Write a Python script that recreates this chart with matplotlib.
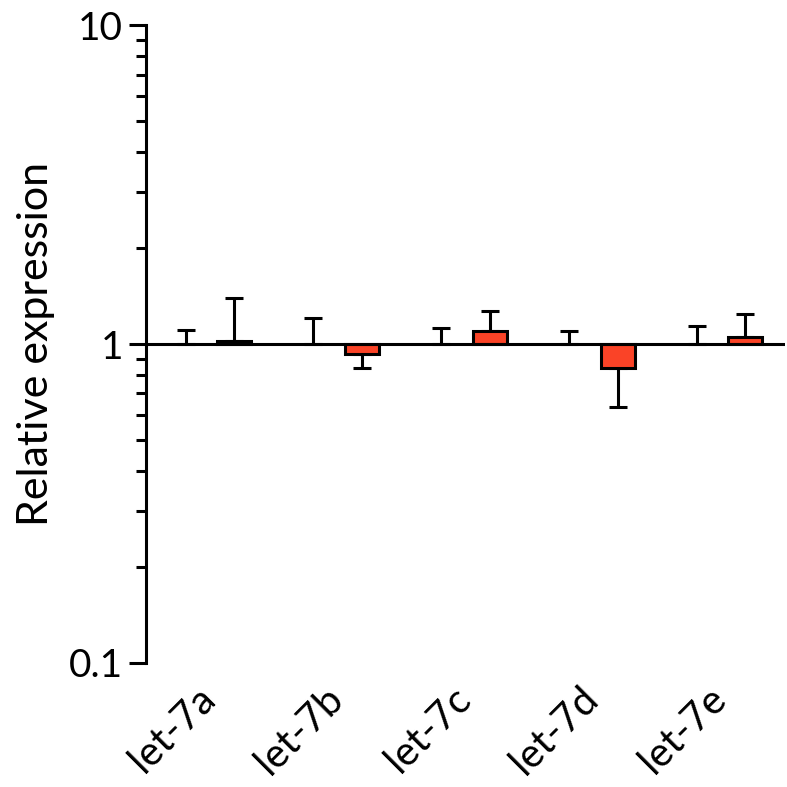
import matplotlib
matplotlib.use("Agg")
import matplotlib.pyplot as plt
import matplotlib.transforms as mtransforms
import numpy as np

plt.rcParams['font.family'] = ['Lato', 'DejaVu Sans']

categories = ["let-7a", "let-7b", "let-7c", "let-7d", "let-7e"]
control = [1.0, 1.0, 1.0, 1.0, 1.0]
control_err_top = [1.11, 1.21, 1.12, 1.10, 1.14]
treated = [1.02, 0.93, 1.10, 0.84, 1.05]
treated_err_end = [1.39, 0.84, 1.27, 0.635, 1.24]

red = '#FA4327'
lw = 2.2

fig = plt.figure(figsize=(7.87, 7.87), dpi=100)
ax = fig.add_axes([0.1855, 0.1576, 0.812, 0.8104])
ax.set_yscale('log')
ax.set_ylim(0.1, 10)
ax.set_xlim(-0.5, 4.5)

x = np.arange(len(categories))
off = 0.19
w = 0.265

for xi, c, e in zip(x, control, control_err_top):
    ax.errorbar([xi - off], [c], yerr=[[0], [e - c]], fmt='none', ecolor='black',
                elinewidth=lw, capsize=6.5, capthick=lw, zorder=2)

for xi, t, e in zip(x, treated, treated_err_end):
    ax.bar(xi + off, t - 1, bottom=1, width=w, color=red, edgecolor='black',
           linewidth=lw, zorder=3)
    if e >= t:
        yerr = [[0], [e - t]]
    else:
        yerr = [[t - e], [0]]
    ax.errorbar([xi + off], [t], yerr=yerr, fmt='none', ecolor='black',
                elinewidth=lw, capsize=6.5, capthick=lw, zorder=2)

ax.axhline(1, color='black', linewidth=lw, zorder=4)

for s in ['top', 'right', 'bottom']:
    ax.spines[s].set_visible(False)
ax.spines['left'].set_linewidth(lw)

ax.set_yticks([0.1, 1, 10])
ax.set_yticklabels(['0.1', '1', '10'])
ax.tick_params(axis='y', which='major', length=12.5, width=lw, labelsize=28, direction='out', pad=4)
ax.tick_params(axis='y', which='minor', length=7, width=lw, direction='out')
ax.yaxis.set_minor_locator(matplotlib.ticker.LogLocator(base=10, subs=np.arange(2, 10)))
ax.yaxis.set_minor_formatter(matplotlib.ticker.NullFormatter())

ax.set_xticks(x)
ax.set_xticklabels(categories, rotation=45, ha='right', rotation_mode='anchor', fontsize=29)
ax.tick_params(axis='x', length=0, pad=12)
shift = mtransforms.ScaledTranslation(-0.14, 0, fig.dpi_scale_trans)
for lab in ax.get_xticklabels():
    lab.set_transform(lab.get_transform() + shift)

ax.set_ylabel('Relative expression', fontsize=31, labelpad=10)

fig.savefig('out.png', dpi=100)
